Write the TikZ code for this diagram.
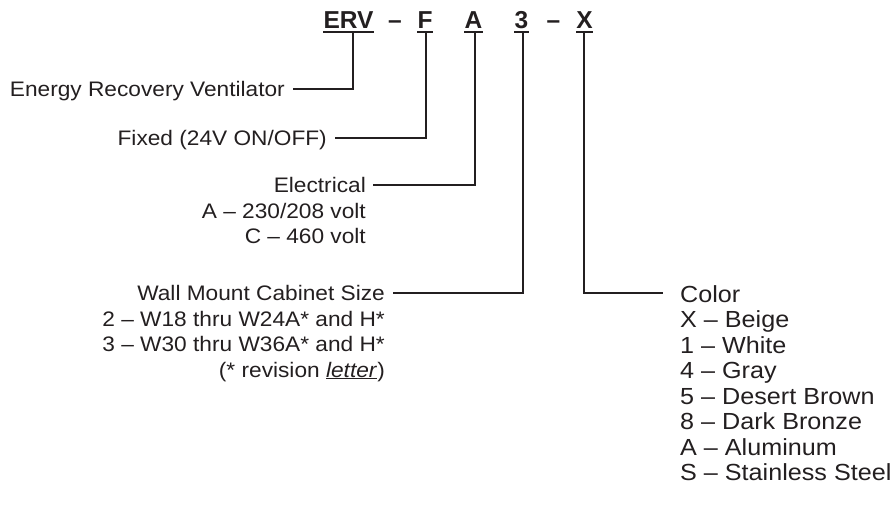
\documentclass[tikz,border=0pt]{standalone}
\usepackage{fontspec}
\setmainfont{Liberation Sans}
\newfontfamily\lblfont[FakeStretch=1.08]{Liberation Sans}
\usetikzlibrary{calc}
\definecolor{ink}{HTML}{231F20}
\tikzset{
  lbl/.style={inner sep=0pt, font=\lblfont\fontsize{21}{25}\selectfont, text=ink},
  clbl/.style={inner sep=0pt, font=\lblfont\fontsize{23.3}{25}\selectfont, text=ink, anchor=base west},
  hdr/.style={inner sep=0pt, font=\fontsize{24.5}{28}\selectfont\bfseries, text=ink, anchor=base},
  conn/.style={draw=ink, line width=1.2pt},
  uline/.style={draw=ink, line width=1.6pt}
}
\begin{document}
\begin{tikzpicture}[x=1pt,y=-1pt]
\useasboundingbox (0,0) rectangle (893,504);
% header
\node[hdr] (erv) at (348.5,28) {ERV};
\node[hdr] (d1) at (395,28) {–};
\node[hdr] (f) at (425,28) {F};
\node[hdr] (a) at (473.5,28) {A};
\node[hdr] (three) at (521.5,28) {3};
\node[hdr] (d2) at (553.5,28) {–};
\node[hdr] (x) at (584.5,28) {X};
\foreach \n in {erv,f,a,three,x}
  \draw[uline] ($(\n.base west)+(0,4)$) -- ($(\n.base east)+(0,4)$);
% labels left
\node[lbl, anchor=base east] (l1) at (285,96) {Energy Recovery Ventilator};
\node[lbl, anchor=base east] (l2) at (327,145) {Fixed (24V ON/OFF)};
\node[lbl, anchor=base east] (l3) at (366,192.5) {Electrical};
\node[lbl, anchor=base east] (l3a) at (366,218) {A – 230/208 volt};
\node[lbl, anchor=base east] (l3b) at (366,243.5) {C – 460 volt};
\node[lbl, anchor=base east] (l4) at (385,300.5) {Wall Mount Cabinet Size};
\node[lbl, anchor=base east] (l4a) at (385,326) {2 – W18 thru W24A* and H*};
\node[lbl, anchor=base east] (l4b) at (385,351.5) {3 – W30 thru W36A* and H*};
\node[lbl, anchor=base east] (l4c) at (385,377) {(* revision \underline{\textit{letter}})};
% color list
\node[clbl] (c0) at (680,302) {Color};
\node[clbl] (c1) at (680,327.5) {X – Beige};
\node[clbl] (c2) at (680,353) {1 – White};
\node[clbl] (c3) at (680,378.5) {4 – Gray};
\node[clbl] (c4) at (680,404) {5 – Desert Brown};
\node[clbl] (c5) at (680,429.5) {8 – Dark Bronze};
\node[clbl] (c6) at (680,455) {A – Aluminum};
\node[clbl] (c7) at (680,480.5) {S – Stainless Steel};
% connector coordinates
\coordinate (v1) at (353,32);
\coordinate (v2) at (426,32);
\coordinate (v3) at (475,32);
\coordinate (v4) at (523,32);
\coordinate (v5) at (584,32);
\coordinate (h1) at ($(l1.base east)+(8,-7)$);
\coordinate (h2) at ($(l2.base east)+(8,-7)$);
\coordinate (h3) at ($(l3.base east)+(7,-7.5)$);
\coordinate (h4) at ($(l4.base east)+(8,-7.5)$);
\coordinate (h5) at ($(c0.base west)+(-17,-9)$);
\draw[conn] (v1) |- (h1);
\draw[conn] (v2) |- (h2);
\draw[conn] (v3) |- (h3);
\draw[conn] (v4) |- (h4);
\draw[conn] (v5) |- (h5);
\end{tikzpicture}
\end{document}
